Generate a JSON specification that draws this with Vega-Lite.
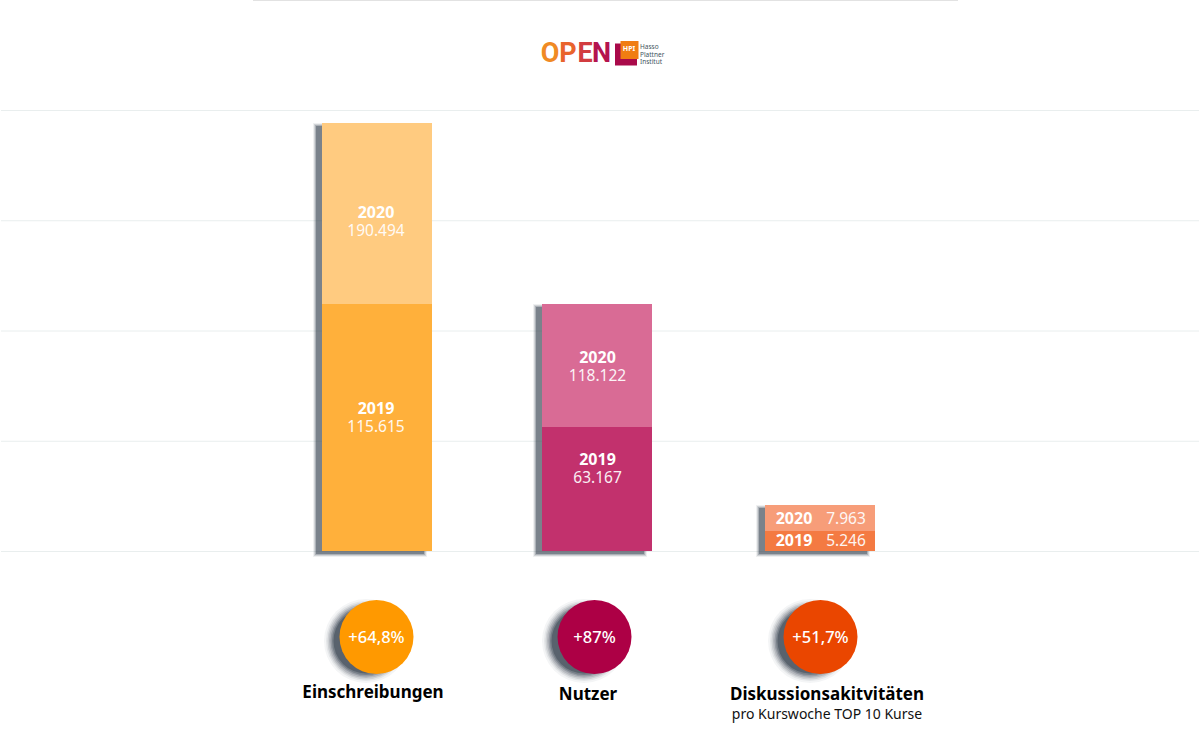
{
  "$schema": "https://vega.github.io/schema/vega-lite/v6.json",
  "width": 1200,
  "height": 749,
  "autosize": {"type": "fit", "contains": "padding"},
  "padding": 0,
  "background": "#ffffff",
  "config": {"view": {"stroke": null}, "text": {"font": "Noto Sans"}},
  "datasets": {
    "balken": [
      {"kennzahl": "Einschreibungen", "nr": 1, "jahr": "2020", "wert": 190494, "basis": 115615, "label": "190.494"},
      {"kennzahl": "Einschreibungen", "nr": 1, "jahr": "2019", "wert": 115615, "basis": 0, "label": "115.615"},
      {"kennzahl": "Nutzer", "nr": 2, "jahr": "2020", "wert": 118122, "basis": 63167, "label": "118.122"},
      {"kennzahl": "Nutzer", "nr": 2, "jahr": "2019", "wert": 63167, "basis": 0, "label": "63.167"},
      {"kennzahl": "Diskussionen", "nr": 3, "jahr": "2020", "wert": 7963, "basis": 5246, "label": "7.963"},
      {"kennzahl": "Diskussionen", "nr": 3, "jahr": "2019", "wert": 5246, "basis": 0, "label": "5.246"}
    ],
    "kreise": [
      {"nr": 1, "kennzahl": "Einschreibungen", "plus": "+64,8%", "titel": "Einschreibungen"},
      {"nr": 2, "kennzahl": "Nutzer", "plus": "+87%", "titel": "Nutzer"},
      {"nr": 3, "kennzahl": "Diskussionen", "plus": "+51,7%", "titel": "Diskussionsakitvitäten"}
    ],
    "gitter": [{"stufe": 0}, {"stufe": 1}, {"stufe": 2}, {"stufe": 3}, {"stufe": 4}],
    "logo": [
      {"nr": 1, "teil": "O"},
      {"nr": 2, "teil": "P"},
      {"nr": 3, "teil": "E"},
      {"nr": 4, "teil": "N"}
    ],
    "quadrate": [
      {"nr": 1, "teil": "rot"},
      {"nr": 2, "teil": "orange"}
    ]
  },
  "layer": [
    {
      "data": {"name": "gitter"},
      "mark": {"type": "rule", "color": "#e9eeee", "strokeWidth": 1},
      "encoding": {
        "y": {"field": "stufe", "type": "quantitative", "axis": null, "scale": {"domain": [0, 4], "range": [551.5, 110.5]}}
      }
    },
    {
      "data": {"values": [{"von": 0, "bis": 1, "h": 0}]},
      "mark": {"type": "rule", "color": "#e2e2e2", "strokeWidth": 1},
      "encoding": {
        "x": {"field": "von", "type": "quantitative", "axis": null, "scale": {"domain": [0, 1], "range": [252, 957]}},
        "x2": {"field": "bis"},
        "y": {"field": "h", "type": "quantitative", "axis": null, "scale": {"domain": [0, 1], "range": [0.5, 10]}}
      }
    },
    {
      "data": {"name": "balken"},
      "transform": [{"filter": "datum.jahr == '2020'"}],
      "encoding": {
        "x": {"field": "nr", "type": "quantitative", "axis": null, "scale": {"domain": [1, 2, 3], "range": [369, 589, 812], "padding": 0}},
        "y": {"field": "wert", "type": "quantitative", "axis": null, "scale": {"domain": [0, 5246, 7963, 63167, 115615, 118122, 190494], "range": [554, 534, 508, 430, 307, 307, 126]}},
        "y2": {"datum": 0}
      },
      "layer": [
        {"mark": {"type": "bar", "width": 108, "fill": "#2f3b48", "stroke": "#2f3b48", "strokeWidth": 6, "opacity": 0.07}},
        {"mark": {"type": "bar", "width": 108, "fill": "#2f3b48", "stroke": "#2f3b48", "strokeWidth": 4, "opacity": 0.15}},
        {"mark": {"type": "bar", "width": 108, "fill": "#2f3b48", "stroke": "#2f3b48", "strokeWidth": 2, "opacity": 0.22}},
        {"mark": {"type": "bar", "width": 108, "fill": "#2f3b48", "opacity": 0.4}}
      ]
    },
    {
      "data": {"name": "balken"},
      "transform": [{"calculate": "datum.nr + '-' + datum.jahr", "as": "reihe"}],
      "mark": {"type": "bar", "width": 110},
      "encoding": {
        "x": {"field": "nr", "type": "quantitative", "axis": null, "scale": {"domain": [1, 2, 3], "range": [376, 596, 819], "padding": 0}},
        "y": {"field": "wert", "type": "quantitative", "axis": null, "stack": null, "scale": {"domain": [0, 5246, 7963, 63167, 115615, 118122, 190494], "range": [551, 531, 505, 427, 304, 304, 123]}},
        "y2": {"field": "basis"},
        "color": {
          "field": "reihe",
          "type": "nominal",
          "legend": null,
          "scale": {
            "domain": ["1-2020", "1-2019", "2-2020", "2-2019", "3-2020", "3-2019"],
            "range": ["#ffcb80", "#ffb03b", "#d96b95", "#c2316d", "#f79d79", "#f47a42"]
          }
        }
      }
    },
    {
      "data": {"name": "balken"},
      "transform": [
        {"filter": "datum.nr < 3"},
        {"calculate": "(datum.wert + datum.basis) / 2", "as": "mitte"}
      ],
      "encoding": {
        "x": {"field": "nr", "type": "quantitative", "axis": null, "scale": {"domain": [1, 2, 3], "range": [375, 596.5, 820]}},
        "y": {"field": "mitte", "type": "quantitative", "axis": null, "scale": {"domain": [31583, 57807, 90644, 153054], "range": [469, 418, 367, 222]}}
      },
      "layer": [
        {"mark": {"type": "text", "color": "#ffffff", "fontSize": 16, "fontWeight": "bold", "dy": -9}, "encoding": {"text": {"field": "jahr"}}},
        {"mark": {"type": "text", "color": "#ffffff", "fontSize": 15.5, "opacity": 0.92, "dy": 9}, "encoding": {"text": {"field": "label"}}}
      ]
    },
    {
      "data": {"name": "balken"},
      "transform": [{"filter": "datum.nr == 3"}],
      "encoding": {
        "x": {"field": "nr", "type": "quantitative", "axis": null, "scale": {"domain": [3, 4], "range": [819, 919]}},
        "y": {"field": "wert", "type": "quantitative", "axis": null, "scale": {"domain": [5246, 7963], "range": [541, 519]}}
      },
      "layer": [
        {"mark": {"type": "text", "color": "#ffffff", "fontSize": 16, "fontWeight": "bold", "dx": -26}, "encoding": {"text": {"field": "jahr"}}},
        {"mark": {"type": "text", "color": "#ffffff", "fontSize": 15.5, "opacity": 0.92, "dx": 26}, "encoding": {"text": {"field": "label"}}}
      ]
    },
    {
      "data": {"name": "kreise"},
      "encoding": {
        "x": {"field": "nr", "type": "quantitative", "axis": null, "scale": {"domain": [1, 2, 3], "range": [365, 583, 809]}},
        "y": {"field": "nr", "type": "quantitative", "axis": null, "scale": {"domain": [1, 3], "range": [641, 641]}}
      },
      "layer": [
        {"mark": {"type": "point", "filled": true, "color": "#2f3b48", "opacity": 0.05, "size": 7056}},
        {"mark": {"type": "point", "filled": true, "color": "#2f3b48", "opacity": 0.08, "size": 6400}},
        {"mark": {"type": "point", "filled": true, "color": "#2f3b48", "opacity": 0.12, "size": 5929}},
        {"mark": {"type": "point", "filled": true, "color": "#2f3b48", "opacity": 0.16, "size": 5476}},
        {"mark": {"type": "point", "filled": true, "color": "#2f3b48", "opacity": 0.22, "size": 5041}},
        {"mark": {"type": "point", "filled": true, "color": "#2f3b48", "opacity": 0.3, "size": 4624}},
        {"mark": {"type": "point", "filled": true, "color": "#2f3b48", "opacity": 0.42, "size": 4225}}
      ]
    },
    {
      "data": {"name": "kreise"},
      "encoding": {
        "x": {"field": "nr", "type": "quantitative", "axis": null, "scale": {"domain": [1, 2, 3], "range": [375.5, 593.5, 819.5]}},
        "y": {"field": "nr", "type": "quantitative", "axis": null, "scale": {"domain": [1, 3], "range": [637, 637]}}
      },
      "layer": [
        {
          "mark": {"type": "point", "filled": true, "opacity": 1, "size": 5476},
          "encoding": {
            "color": {
              "field": "kennzahl",
              "type": "nominal",
              "legend": null,
              "scale": {"domain": ["Einschreibungen", "Nutzer", "Diskussionen"], "range": ["#ff9900", "#ad0045", "#ea4600"]}
            }
          }
        },
        {
          "mark": {"type": "text", "color": "#ffffff", "fontSize": 16.5, "fontWeight": 500, "dy": 1},
          "encoding": {"text": {"field": "plus"}}
        }
      ]
    },
    {
      "data": {"name": "kreise"},
      "mark": {"type": "text", "color": "#000000", "fontSize": 17, "fontWeight": "bold"},
      "encoding": {
        "x": {"field": "nr", "type": "quantitative", "axis": null, "scale": {"domain": [1, 2, 3], "range": [372, 587, 826]}},
        "y": {"field": "nr", "type": "quantitative", "axis": null, "scale": {"domain": [1, 2, 3], "range": [693, 695, 695]}},
        "text": {"field": "titel"}
      }
    },
    {
      "data": {"values": [{"nr": 3, "text": "pro Kurswoche TOP 10 Kurse"}]},
      "mark": {"type": "text", "color": "#111111", "fontSize": 14},
      "encoding": {
        "x": {"field": "nr", "type": "quantitative", "axis": null, "scale": {"domain": [3, 4], "range": [826, 926]}},
        "y": {"field": "nr", "type": "quantitative", "axis": null, "scale": {"domain": [3, 4], "range": [715, 725]}},
        "text": {"field": "text"}
      }
    },
    {
      "data": {"name": "logo"},
      "mark": {"type": "text", "font": "Roboto", "fontSize": 27, "fontWeight": "bold"},
      "encoding": {
        "x": {"field": "nr", "type": "quantitative", "axis": null, "scale": {"domain": [1, 2, 3, 4], "range": [549, 567, 584, 600.5]}},
        "y": {"field": "nr", "type": "quantitative", "axis": null, "scale": {"domain": [1, 4], "range": [54, 54]}},
        "text": {"field": "teil"},
        "color": {
          "field": "teil",
          "type": "nominal",
          "legend": null,
          "scale": {"domain": ["O", "P", "E", "N"], "range": ["#f08a24", "#e9642c", "#d23c40", "#b4134e"]}
        }
      }
    },
    {
      "data": {"name": "quadrate"},
      "mark": {"type": "point", "shape": "square", "filled": true, "opacity": 1},
      "encoding": {
        "x": {"field": "nr", "type": "quantitative", "axis": null, "scale": {"domain": [1, 2], "range": [625, 628.5]}},
        "y": {"field": "nr", "type": "quantitative", "axis": null, "scale": {"domain": [1, 2], "range": [54.5, 50]}},
        "size": {"field": "nr", "type": "quantitative", "legend": null, "scale": {"domain": [1, 2], "range": [484, 324]}},
        "color": {"field": "teil", "type": "nominal", "legend": null, "scale": {"domain": ["rot", "orange"], "range": ["#a90a4a", "#f07d12"]}}
      }
    },
    {
      "data": {"values": [{"nr": 1, "text": "HPI"}]},
      "mark": {"type": "text", "color": "#ffffff", "fontSize": 7, "fontWeight": "bold"},
      "encoding": {
        "x": {"field": "nr", "type": "quantitative", "axis": null, "scale": {"domain": [1, 2], "range": [628, 700]}},
        "y": {"field": "nr", "type": "quantitative", "axis": null, "scale": {"domain": [1, 2], "range": [49, 60]}},
        "text": {"field": "text"}
      }
    },
    {
      "data": {"values": [{"nr": 1, "text": "Hasso"}, {"nr": 2, "text": "Plattner"}, {"nr": 3, "text": "Institut"}]},
      "mark": {"type": "text", "color": "#3f5560", "fontSize": 6.5, "align": "left"},
      "encoding": {
        "x": {"field": "nr", "type": "quantitative", "axis": null, "scale": {"domain": [1, 3], "range": [639, 639]}},
        "y": {"field": "nr", "type": "quantitative", "axis": null, "scale": {"domain": [1, 3], "range": [47, 62]}},
        "text": {"field": "text"}
      }
    }
  ],
  "resolve": {"scale": {"x": "independent", "y": "independent", "color": "independent", "size": "independent"}}
}
